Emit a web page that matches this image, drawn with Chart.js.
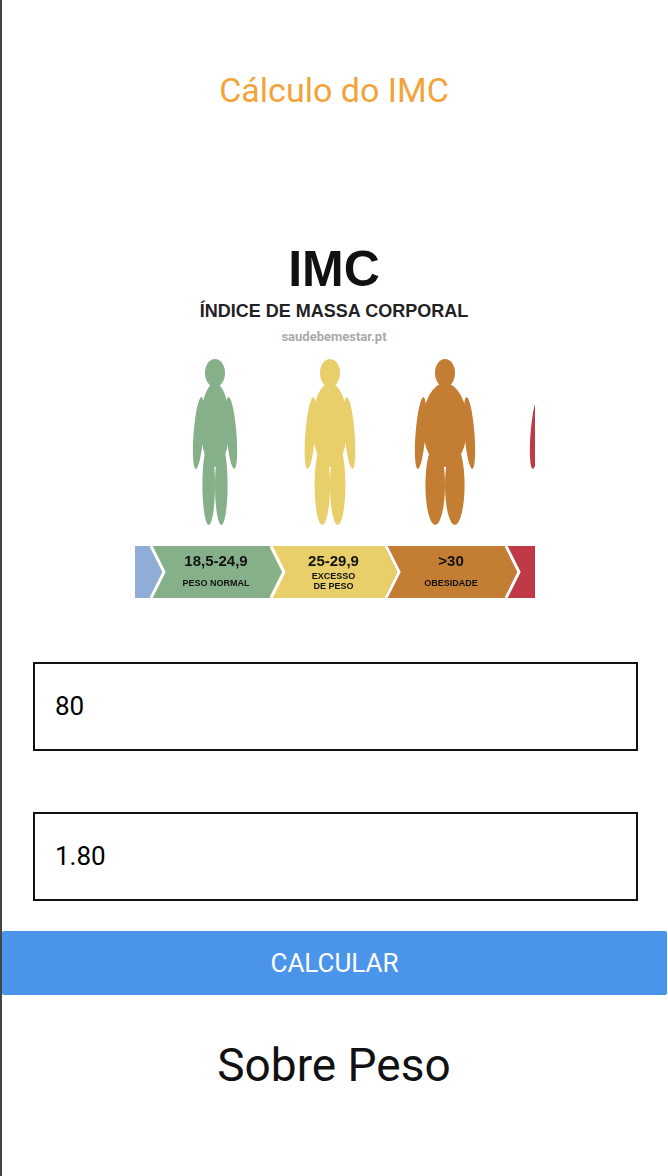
<!DOCTYPE html>
<html><head><meta charset="utf-8">
<script src="https://cdn.jsdelivr.net/npm/chart.js@4"></script>
<style>
body{margin:0;width:668px;height:1176px;position:relative;background:#fff;font-family:Roboto,"Noto Sans",sans-serif;overflow:hidden}
#edge{position:absolute;left:0;top:0;width:2px;height:1176px;background:#444}
.t{position:absolute;left:0;width:668px;text-align:center}
.box{position:absolute;left:33px;height:89px;border:2px solid #111;font-size:26px;line-height:85px;padding-left:20px;box-sizing:border-box;width:605px}
#btn{position:absolute;left:2px;top:931px;width:665px;height:64px;background:#4A94EA;color:#fff;font-size:26px;line-height:64px;text-align:center;border-radius:2px}
#figs{position:absolute;left:135px;top:355px}
#bandWrap{position:absolute;left:135px;top:546px;width:400px;height:52px}
</style></head><body>
<div id="edge"></div>
<div class="t" style="top:70px;font-size:34px;color:#F2A33A">Cálculo do IMC</div>
<div class="t" style="top:240px;font-size:50px;font-weight:bold;color:#111;font-family:'Liberation Sans',sans-serif">IMC</div>
<div class="t" style="top:301px;font-size:18px;font-weight:bold;color:#222;font-family:'Liberation Sans',sans-serif">ÍNDICE DE MASSA CORPORAL</div>
<div class="t" style="top:329px;font-size:13px;font-weight:bold;color:#aaa">saudebemestar.pt</div>
<canvas id="figs" width="400" height="175"></canvas>
<div id="bandWrap"><canvas id="band"></canvas></div>
<div class="box" style="top:662px">80</div>
<div class="box" style="top:812px">1.80</div>
<div id="btn">CALCULAR</div>
<div class="t" style="top:1038px;font-size:46px;color:#111">Sobre Peso</div>
<script>
const categories = ['<18,5', '18,5-24,9', '25-29,9', '>30', '>40'];
const subLabels = ['', 'PESO NORMAL', 'EXCESSO\nDE PESO', 'OBESIDADE', ''];
const segmentWidths = [15, 120, 115, 120, 30];
const segmentColors = ['#8FADD6', '#86B08A', '#E8CF6A', '#C47E34', '#C03A45'];
const figureCenters = [80, 195, 310, 425];
const figureWidths = [0.9, 1.1, 1.4, 1.4];

// silhouettes
const fx = document.getElementById('figs').getContext('2d');
figureCenters.forEach((cx, i) => {
  const w = figureWidths[i];
  fx.save(); fx.beginPath(); fx.rect(0,0,400,175); fx.clip();
  fx.fillStyle = segmentColors[i+1];
  fx.beginPath(); fx.ellipse(cx, 18, 10, 14, 0, 0, 7); fx.fill();
  fx.beginPath(); fx.ellipse(cx, 70, 16*w, 42, 0, 0, 7); fx.fill();
  fx.beginPath(); fx.ellipse(cx-16*w-2, 78, 5, 36, 0.08, 0, 7); fx.fill();
  fx.beginPath(); fx.ellipse(cx+16*w+2, 78, 5, 36, -0.08, 0, 7); fx.fill();
  fx.beginPath(); fx.ellipse(cx-7*w, 130, 7*w, 40, 0, 0, 7); fx.fill();
  fx.beginPath(); fx.ellipse(cx+7*w, 130, 7*w, 40, 0, 0, 7); fx.fill();
  fx.restore();
});

const labelPlugin = {
  id: 'labels',
  afterDatasetsDraw(chart) {
    const c = chart.ctx;
    chart.data.datasets.forEach((ds, i) => {
      const el = chart.getDatasetMeta(i).data[0];
      const right = el.x, top = el.y - el.height/2, bot = el.y + el.height/2;
      if (i < chart.data.datasets.length - 1) {
        c.fillStyle = segmentColors[i];
        c.beginPath(); c.moveTo(right-1, top); c.lineTo(right+12, (top+bot)/2); c.lineTo(right-1, bot); c.fill();
        c.strokeStyle = '#fff'; c.lineWidth = 3;
        c.beginPath(); c.moveTo(right+1, top); c.lineTo(right+14, (top+bot)/2); c.lineTo(right+1, bot); c.stroke();
      }
      if (!subLabels[i]) return;
      const left = el.base, mid = (left + right)/2 + 6;
      c.fillStyle = '#111'; c.textAlign = 'center';
      c.font = 'bold 15px "Liberation Sans"'; c.fillText(categories[i], mid, top + 20);
      c.font = 'bold 9px "Liberation Sans"';
      subLabels[i].split('\n').forEach((s, k) => c.fillText(s, mid, top + (subLabels[i].includes('\n') ? 33 + k*10 : 40)));
    });
  }
};

new Chart(document.getElementById('band'), {
  type: 'bar',
  data: { labels: [''], datasets: segmentWidths.map((v, i) => ({ label: categories[i], data: [v], backgroundColor: segmentColors[i], barPercentage: 1, categoryPercentage: 1 })) },
  options: {
    indexAxis: 'y', responsive: true, maintainAspectRatio: false, animation: false,
    layout: { padding: 0 },
    plugins: { legend: { display: false }, tooltip: { enabled: false } },
    scales: { x: { stacked: true, min: 0, max: 400, display: false }, y: { stacked: true, display: false } }
  },
  plugins: [labelPlugin]
});
</script>
</body></html>
